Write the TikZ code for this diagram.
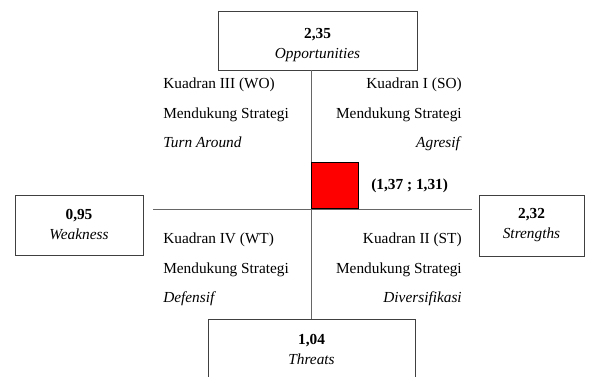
\documentclass[tikz,border=0pt]{standalone}
\usepackage{fontspec}
\setmainfont{Liberation Serif}
\usetikzlibrary{positioning}
\tikzstyle{valbox} = [rectangle, draw=black!75, line width=0.6pt, align=center, inner sep=0pt, font=\fontsize{11.5}{15}\selectfont]
\tikzstyle{quad} = [inner sep=0pt, font=\fontsize{11.5}{22}\selectfont]
\tikzstyle{axis} = [draw=black!60, line width=0.6pt]

\begin{document}
\begin{tikzpicture}[x=0.75pt, y=-0.75pt]
\useasboundingbox (0,0) rectangle (611,376);

\node (opp) [valbox, minimum width=149.25pt, minimum height=44.25pt] at (317.5,40.5) {\rule{0pt}{14pt}\textbf{2,35}\\ \textit{Opportunities}};
\node (weak) [valbox, minimum width=96pt, minimum height=45pt] at (79,225) {\textbf{0,95}\\ \textit{Weakness}};
\node (str) [valbox, minimum width=78.75pt, minimum height=45.75pt] at (531.5,225.5) {\textbf{2,32}\\ \textit{Strengths}};
\node (thr) [valbox, minimum width=155.25pt, minimum height=45pt] at (311.5,349) {\textbf{1,04}\\ \textit{Threats}};

\coordinate (o) at (311,209);

% axes
\draw [axis] (thr.north) -- (thr.north |- opp.south);
\draw [axis] ([xshift=7.5pt]weak.east |- o) -- ([xshift=-5.25pt]str.west |- o);

% position
\node (pt) [rectangle, draw=black, line width=0.8pt, fill=red, minimum width=35.25pt, minimum height=34.5pt, anchor=south west, inner sep=0pt] at (o) {};
\node (lbl) [right=9pt of pt, inner sep=0pt, font=\fontsize{11.5}{14}\selectfont] {\textbf{(1,37 ; 1,31)}};

% quadrants
\node (q3) [quad, anchor=north west, align=left] at (163,78) {Kuadran III (WO)\\ Mendukung Strategi\\ \textit{Turn Around}};
\node (q1) [quad, anchor=north east, align=right] at (462,78) {Kuadran I (SO)\\ Mendukung Strategi\\ \textit{Agresif}};
\node (q4) [quad, anchor=north west, align=left] at (163,233) {Kuadran IV (WT)\\ Mendukung Strategi\\ \textit{Defensif}};
\node (q2) [quad, anchor=north east, align=right] at (462,233) {Kuadran II (ST)\\ Mendukung Strategi\\ \textit{Diversifikasi}};

\end{tikzpicture}
\end{document}
